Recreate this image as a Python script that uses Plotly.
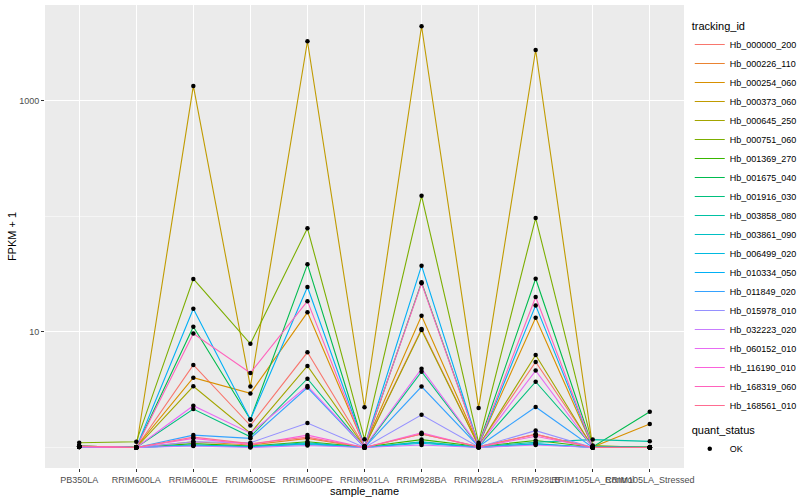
import plotly.graph_objects as go

categories = ["PB350LA", "RRIM600LA", "RRIM600LE", "RRIM600SE", "RRIM600PE", "RRIM901LA",
              "RRIM928BA", "RRIM928LA", "RRIM928LB", "RRIM105LA_Control", "RRIM105LA_Stressed"]

tracking_ids = ["Hb_000000_200", "Hb_000226_110", "Hb_000254_060", "Hb_000373_060", "Hb_000645_250",
                "Hb_000751_060", "Hb_001369_270", "Hb_001675_040", "Hb_001916_030", "Hb_003858_080",
                "Hb_003861_090", "Hb_006499_020", "Hb_010334_050", "Hb_011849_020", "Hb_015978_010",
                "Hb_032223_020", "Hb_060152_010", "Hb_116190_010", "Hb_168319_060", "Hb_168561_010"]

colors = ["#F8766D", "#EA8331", "#D89000", "#C09B00", "#A3A500", "#7CAE00", "#39B600", "#00BB4E",
          "#00BF7D", "#00C1A3", "#00BFC4", "#00BAE0", "#00B0F6", "#35A2FF", "#9590FF", "#C77CFF",
          "#E76BF3", "#FA62DB", "#FF62BC", "#FF6C91"]

fpkm_Hb_000000_200 = [1.02, 1.00, 5.18, 1.55, 6.67, 1.02, 10.6, 1.04, 5.5, 1.02, 1.00]
fpkm_Hb_000226_110 = [1.03, 1.00, 1.12, 1.05, 1.20, 1.00, 1.31, 1.02, 1.30, 1.00, 1.01]
fpkm_Hb_000254_060 = [1.02, 1.01, 4.02, 2.94, 14.8, 1.03, 13.8, 1.05, 13.3, 1.01, 1.60]
fpkm_Hb_000373_060 = [1.02, 1.00, 1350, 3.37, 3290, 2.23, 4440, 2.20, 2765, 1.00, 1.00]
fpkm_Hb_000645_250 = [1.01, 1.00, 3.39, 1.33, 5.08, 1.01, 10.4, 1.03, 6.33, 1.00, 1.00]
fpkm_Hb_000751_060 = [1.10, 1.12, 28.8, 7.9, 79, 1.18, 151, 1.10, 97, 1.04, 1.00]
fpkm_Hb_001369_270 = [1.03, 1.00, 1.08, 1.03, 1.12, 1.01, 1.17, 1.02, 1.15, 1.01, 1.00]
fpkm_Hb_001675_040 = [1.02, 1.00, 11.1, 1.75, 38.5, 1.01, 26.9, 1.06, 28.9, 1.01, 2.04]
fpkm_Hb_001916_030 = [1.01, 1.00, 2.15, 1.24, 3.94, 1.00, 4.53, 1.02, 3.71, 1.02, 1.01]
fpkm_Hb_003858_080 = [1.03, 1.00, 1.05, 1.02, 1.10, 1.00, 1.12, 1.01, 1.11, 1.17, 1.13]
fpkm_Hb_003861_090 = [1.02, 1.00, 1.04, 1.02, 1.06, 1.00, 1.11, 1.00, 1.07, 1.00, 1.00]
fpkm_Hb_006499_020 = [1.01, 1.00, 1.05, 1.01, 1.08, 1.00, 1.09, 1.00, 1.08, 1.00, 1.00]
fpkm_Hb_010334_050 = [1.02, 1.00, 15.9, 1.75, 24.5, 1.02, 37.5, 1.04, 17.0, 1.01, 1.00]
fpkm_Hb_011849_020 = [1.02, 1.00, 1.28, 1.20, 3.30, 1.00, 3.37, 1.02, 2.24, 1.00, 1.00]
fpkm_Hb_015978_010 = [1.01, 1.00, 1.12, 1.10, 1.63, 1.00, 1.92, 1.01, 1.40, 1.00, 1.00]
fpkm_Hb_032223_020 = [1.01, 1.00, 1.03, 1.00, 1.04, 1.00, 1.05, 1.00, 1.05, 1.00, 1.00]
fpkm_Hb_060152_010 = [1.02, 1.00, 2.30, 1.33, 3.41, 1.01, 4.81, 1.03, 4.63, 1.00, 1.00]
fpkm_Hb_116190_010 = [1.02, 1.00, 1.20, 1.06, 1.28, 1.00, 1.34, 1.01, 1.25, 1.00, 1.00]
fpkm_Hb_168319_060 = [1.02, 1.00, 9.7, 4.42, 18.5, 1.02, 26.4, 1.05, 20.1, 1.01, 1.00]
fpkm_Hb_168561_010 = [1.03, 1.00, 1.23, 1.08, 1.23, 1.00, 1.31, 1.01, 1.30, 1.00, 1.00]

series = [fpkm_Hb_000000_200, fpkm_Hb_000226_110, fpkm_Hb_000254_060, fpkm_Hb_000373_060,
          fpkm_Hb_000645_250, fpkm_Hb_000751_060, fpkm_Hb_001369_270, fpkm_Hb_001675_040,
          fpkm_Hb_001916_030, fpkm_Hb_003858_080, fpkm_Hb_003861_090, fpkm_Hb_006499_020,
          fpkm_Hb_010334_050, fpkm_Hb_011849_020, fpkm_Hb_015978_010, fpkm_Hb_032223_020,
          fpkm_Hb_060152_010, fpkm_Hb_116190_010, fpkm_Hb_168319_060, fpkm_Hb_168561_010]

y_tick_vals = [10, 1000]
y_tick_text = ["10", "1000"]

FONT = "Liberation Sans, Arial, sans-serif"

fig = go.Figure()
for name, col, vals in zip(tracking_ids, colors, series):
    fig.add_trace(go.Scatter(x=categories, y=vals, mode="lines", name=name,
                             line=dict(color=col, width=1.1), legend="legend"))

all_x, all_y = [], []
for vals in series:
    all_x += categories
    all_y += vals
fig.add_trace(go.Scatter(x=all_x, y=all_y, mode="markers", name="OK",
                         marker=dict(color="black", size=4.5, symbol="circle"),
                         legend="legend2"))

fig.update_layout(
    width=800, height=500,
    margin=dict(l=45, r=116, t=5, b=32, autoexpand=False),
    paper_bgcolor="white", plot_bgcolor="#EBEBEB",
    font=dict(family=FONT, color="black"),
    showlegend=True,
    legend=dict(title=dict(text="tracking_id", font=dict(size=11)),
                font=dict(size=9), x=1.009, xanchor="left", y=0.977, yanchor="top",
                bgcolor="rgba(0,0,0,0)", tracegroupgap=0, itemwidth=30),
    legend2=dict(title=dict(text="quant_status", font=dict(size=11)),
                 font=dict(size=9), x=1.009, xanchor="left", y=0.104, yanchor="top",
                 bgcolor="rgba(0,0,0,0)", itemwidth=30),
)
fig.update_xaxes(type="category", categoryorder="array", categoryarray=categories,
                 range=[-0.6, 10.6], showgrid=True, gridcolor="white", gridwidth=1.1,
                 zeroline=False, ticks="outside", ticklen=3, tickcolor="#333333",
                 tickangle=0, tickfont=dict(size=9, color="#4D4D4D"), automargin=False,
                 title=dict(text="sample_name", font=dict(size=11), standoff=0))
fig.update_yaxes(type="log", range=[-0.1775, 3.831], tickvals=y_tick_vals, ticktext=y_tick_text,
                 showgrid=True, gridcolor="white", gridwidth=1.1, zeroline=False,
                 ticks="outside", ticklen=3, tickcolor="#333333", automargin=False,
                 tickfont=dict(size=9, color="#4D4D4D"),
                 minor=dict(tickvals=[1, 100], showgrid=True, gridcolor="#F5F5F5", gridwidth=0.6, ticks=""),
                 title=dict(text="FPKM + 1", font=dict(size=11), standoff=0))

fig.write_html("out.html", config={"displayModeBar": False},
               post_script="document.body.style.margin='0';")
